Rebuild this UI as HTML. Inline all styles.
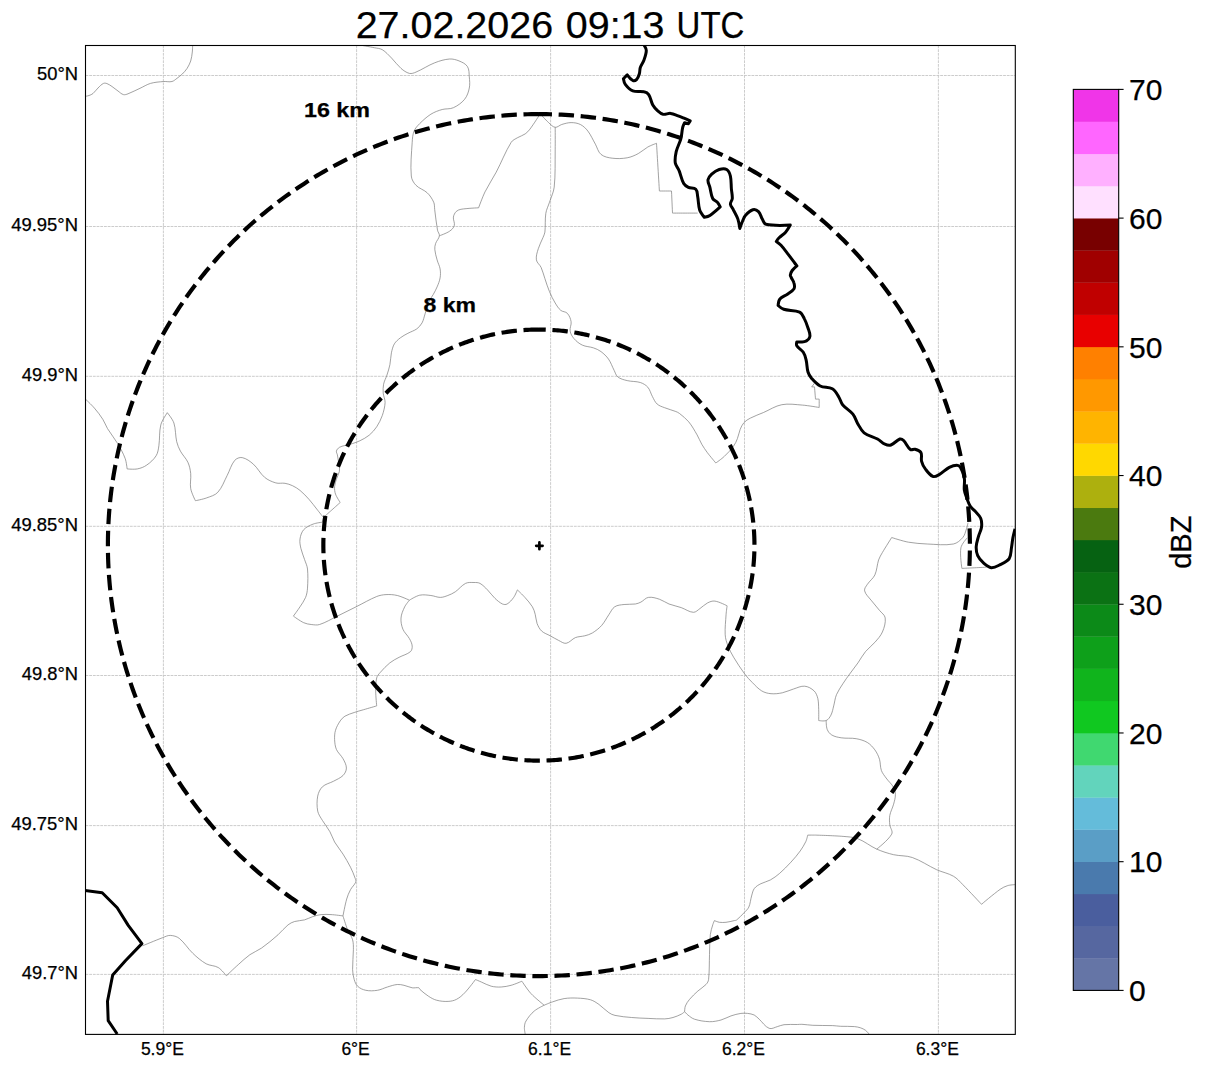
<!DOCTYPE html><html><head><meta charset="utf-8"><style>html,body{margin:0;padding:0;background:#fff;}svg{display:block;}text{font-family:"Liberation Sans",sans-serif;stroke:#000;stroke-width:0.25px;}</style></head><body>
<svg width="1207" height="1069" viewBox="0 0 1207 1069">
<rect x="0" y="0" width="1207" height="1069" fill="#fff"/>
<defs><clipPath id="ax"><rect x="85.5" y="45.5" width="929.8" height="988.9000000000001"/></clipPath></defs>
<g clip-path="url(#ax)">
<g stroke="#c6c6c6" stroke-width="0.9" stroke-dasharray="2.8 0.9" fill="none">
<line x1="163.4" y1="45.5" x2="163.4" y2="1034.4"/>
<line x1="356.6" y1="45.5" x2="356.6" y2="1034.4"/>
<line x1="550.6" y1="45.5" x2="550.6" y2="1034.4"/>
<line x1="744.5" y1="45.5" x2="744.5" y2="1034.4"/>
<line x1="938.4" y1="45.5" x2="938.4" y2="1034.4"/>
<line x1="85.5" y1="75.5" x2="1015.3" y2="75.5"/>
<line x1="85.5" y1="226.5" x2="1015.3" y2="226.5"/>
<line x1="85.5" y1="376.3" x2="1015.3" y2="376.3"/>
<line x1="85.5" y1="526.3" x2="1015.3" y2="526.3"/>
<line x1="85.5" y1="675.5" x2="1015.3" y2="675.5"/>
<line x1="85.5" y1="825.6" x2="1015.3" y2="825.6"/>
<line x1="85.5" y1="974.4" x2="1015.3" y2="974.4"/>
</g>
<g stroke="#7a7a7a" stroke-width="0.7" fill="none" stroke-linejoin="round">
<path d="M85.0,96.4 C85.0,96.4 87.7,96.0 89.0,95.5 C90.4,95.0 91.9,94.5 93.0,93.5 C94.9,91.9 96.2,89.7 98.0,88.0 C99.7,86.3 101.4,84.4 103.5,83.4 C104.5,82.9 105.9,83.2 107.0,83.6 C108.8,84.3 110.4,85.4 112.0,86.5 C114.1,87.9 116.0,89.6 118.0,91.0 C119.8,92.3 121.3,94.0 123.4,94.6 C124.9,95.0 126.5,94.4 128.0,93.8 C132.1,92.2 136.0,90.1 140.0,88.3 C143.5,86.7 146.8,84.5 150.5,83.4 C154.7,82.2 159.2,81.9 163.6,81.5 C166.4,81.3 169.3,82.2 172.0,81.5 C173.9,81.0 175.4,79.5 177.0,78.3 C178.8,77.0 180.7,75.6 182.3,74.0 C184.0,72.3 185.7,70.5 187.0,68.5 C188.5,66.2 189.8,63.7 190.7,61.0 C191.6,58.1 191.9,55.0 192.3,52.0 C192.6,49.7 192.6,45.0 192.6,45.0"/>
<path d="M359.8,45.0 C359.8,45.0 369.8,46.8 374.8,47.8 C377.3,48.3 380.1,48.4 382.3,49.7 C385.9,51.9 388.6,55.1 391.6,58.1 C394.9,61.4 397.5,65.4 401.0,68.4 C403.5,70.5 406.2,72.6 409.4,73.4 C411.6,73.9 413.9,73.0 416.0,72.1 C422.4,69.4 428.2,65.3 434.7,62.8 C439.5,60.9 444.5,59.4 449.6,59.0 C452.8,58.8 456.1,59.7 459.0,60.9 C462.1,62.2 465.6,63.7 467.4,66.5 C469.3,69.4 469.0,73.3 469.3,76.8 C469.6,80.5 470.1,84.3 469.3,88.0 C468.5,92.0 467.2,96.1 464.6,99.3 C461.7,102.9 457.6,105.8 453.4,107.7 C450.0,109.3 445.8,108.5 442.2,109.5 C438.3,110.6 434.4,112.0 430.9,114.2 C426.8,116.8 423.1,120.2 419.7,123.6 C417.5,125.8 415.3,128.1 414.1,131.0 C412.7,134.5 412.4,138.5 412.2,142.3 C411.5,153.5 410.3,164.8 411.3,176.0 C411.6,179.5 413.6,182.8 416.0,185.3 C419.1,188.6 424.0,189.7 427.2,192.8 C430.0,195.4 432.1,198.7 433.7,202.2 C434.7,204.5 434.4,207.1 434.7,209.6 C435.6,216.5 436.3,223.4 437.5,230.2 C437.8,232.1 439.7,233.8 439.4,235.8 C439.0,238.6 436.5,240.8 435.6,243.5 C435.0,245.4 434.6,247.5 434.8,249.5 C435.1,253.0 436.2,256.5 437.1,259.9 C437.9,263.0 439.6,265.8 440.1,268.9 C440.6,271.9 440.6,274.9 440.1,277.9 C439.6,281.0 438.3,284.0 437.1,286.9 C436.0,289.5 434.7,291.9 433.3,294.4 C431.9,297.0 429.9,299.2 428.8,301.9 C427.2,305.7 426.4,309.8 425.1,313.8 C424.1,316.8 423.6,320.0 422.1,322.8 C420.8,325.1 419.0,327.2 416.9,328.8 C414.2,330.8 410.8,331.7 407.9,333.3 C405.3,334.7 402.7,336.0 400.4,337.8 C398.2,339.5 395.9,341.4 394.4,343.8 C392.8,346.5 392.1,349.7 391.4,352.8 C390.6,356.7 390.7,360.8 389.9,364.7 C389.2,368.3 388.0,371.7 386.9,375.2 C385.9,378.2 384.2,381.1 383.6,384.2 C383.0,387.1 383.0,390.1 383.2,393.1 C383.5,396.3 385.2,399.3 385.1,402.5 C384.9,406.9 383.7,411.3 382.3,415.5 C380.9,419.5 379.0,423.3 376.7,426.8 C374.6,429.9 372.1,432.8 369.2,435.2 C366.4,437.5 363.1,439.2 359.8,440.8 C357.4,442.0 354.9,442.8 352.4,443.6 C349.9,444.4 347.4,444.8 344.9,445.5 C343.0,446.0 340.9,446.3 339.3,447.4 C338.0,448.3 336.8,449.6 336.4,451.1 C336.1,452.3 337.1,453.5 337.4,454.8 C337.8,456.7 338.0,458.5 338.3,460.4 C338.6,462.3 339.1,464.2 339.3,466.1 C339.5,468.0 339.7,469.9 339.3,471.7 C338.7,474.3 337.2,476.6 336.4,479.2 C335.6,481.6 334.8,484.1 334.6,486.6 C334.4,489.1 334.7,491.7 335.5,494.1 C336.6,497.1 340.2,502.5 340.2,502.5 C340.2,502.5 334.6,507.5 331.8,510.0 C329.0,512.5 323.4,517.5 323.4,517.5"/>
<path d="M439.4,235.8 C439.4,235.8 446.5,233.3 449.6,231.2 C451.6,229.8 453.7,227.9 454.3,225.5 C455.0,222.8 453.0,219.9 453.4,217.1 C453.7,215.0 454.8,213.0 456.2,211.5 C457.4,210.3 459.2,209.6 460.9,209.3 C466.7,208.3 478.6,207.8 478.6,207.8 C478.6,207.8 482.5,197.0 485.0,191.9 C488.3,185.1 492.7,178.9 496.2,172.2 C501.4,162.3 505.3,151.8 511.2,142.3 C512.6,140.0 515.4,139.0 517.7,137.6 C520.1,136.2 522.9,135.5 525.2,133.9 C527.0,132.6 528.6,131.0 529.9,129.2 C533.6,124.3 540.2,113.8 540.2,113.8 C540.2,113.8 545.6,119.9 548.6,122.6 C550.6,124.4 552.5,126.9 555.2,127.3 C557.5,127.6 559.4,125.2 561.7,124.5 C564.8,123.6 567.9,122.6 571.1,122.6 C574.3,122.6 577.6,123.1 580.4,124.5 C583.4,126.0 585.9,128.5 587.9,131.1 C590.9,135.1 592.9,139.8 595.4,144.2 C597.3,147.6 598.0,151.9 601.0,154.4 C604.0,156.9 608.3,157.7 612.2,158.2 C617.2,158.8 622.3,158.7 627.2,157.8 C631.1,157.1 634.9,155.4 638.4,153.5 C641.8,151.7 644.5,148.9 647.8,147.0 C650.5,145.5 656.5,143.3 656.5,143.3 C656.5,143.3 659.4,191.0 659.4,191.0 C659.4,191.0 671.5,191.0 671.5,191.0 C671.5,191.0 672.5,213.1 672.5,213.1 C672.5,213.1 697.7,213.1 697.7,213.1"/>
<path d="M555.2,127.3 C555.2,127.3 555.3,142.3 555.2,149.8 C555.0,162.3 555.5,174.8 554.2,187.2 C553.6,192.4 551.1,197.2 549.5,202.2 C548.3,205.9 546.4,209.5 545.8,213.4 C544.9,219.6 545.6,225.9 544.9,232.1 C544.7,234.0 543.7,235.7 543.0,237.5 C541.5,241.3 539.4,244.8 538.3,248.7 C537.2,252.3 535.8,256.2 536.4,259.9 C536.8,262.8 539.9,264.7 541.1,267.4 C542.7,271.0 543.6,274.9 544.9,278.6 C546.4,283.0 547.7,287.4 549.5,291.7 C551.1,295.6 553.0,299.4 555.2,303.0 C556.8,305.6 558.4,308.4 560.8,310.4 C562.6,311.9 565.7,311.5 567.3,313.3 C569.4,315.6 570.6,318.7 571.1,321.7 C571.6,324.8 569.6,327.9 570.1,331.0 C570.6,333.8 572.1,336.4 573.9,338.5 C576.2,341.2 579.1,343.6 582.3,345.1 C585.8,346.8 589.9,346.6 593.5,347.9 C596.1,348.8 598.8,349.9 601.0,351.6 C603.8,353.7 606.5,356.2 608.5,359.1 C610.9,362.5 612.2,366.6 614.1,370.3 C615.3,372.5 615.8,375.3 617.8,376.9 C620.4,379.0 623.9,379.8 627.2,380.6 C631.5,381.7 636.1,381.2 640.3,382.5 C643.1,383.4 645.9,385.0 647.8,387.2 C650.1,389.8 650.7,393.5 652.4,396.5 C653.8,399.1 654.9,402.0 657.1,404.0 C659.2,405.9 662.0,406.7 664.6,407.7 C668.3,409.2 672.1,410.1 675.8,411.5 C677.1,412.0 678.3,412.6 679.4,413.4 C682.7,416.0 686.0,418.6 688.7,421.8 C692.0,425.8 694.5,430.4 697.1,434.9 C698.9,437.9 700.0,441.3 701.8,444.3 C703.5,447.2 705.4,450.0 707.4,452.7 C710.1,456.2 715.8,463.0 715.8,463.0 C715.8,463.0 721.7,458.9 724.3,456.4 C727.7,453.2 730.9,449.8 733.6,446.1 C735.3,443.8 736.4,441.2 737.4,438.6 C738.6,435.6 739.0,432.3 740.2,429.3 C741.2,427.0 742.2,424.6 743.9,422.7 C745.7,420.7 748.0,419.3 750.4,418.1 C754.6,415.9 759.1,414.4 763.5,412.5 C769.6,409.9 775.3,405.9 781.8,404.7 C788.5,403.4 795.6,404.6 802.4,405.1 C808.0,405.5 819.2,407.5 819.2,407.5 C819.2,407.5 819.2,399.1 819.2,399.1 C819.2,399.1 815.5,399.1 815.5,399.1 C815.5,399.1 814.5,386.9 814.5,386.9 C814.5,386.9 811.7,386.9 811.7,386.9 C811.7,386.9 814.5,383.2 814.5,383.2"/>
<path d="M85.0,398.7 C85.0,398.7 91.5,404.7 94.4,408.1 C97.5,411.6 100.3,415.4 102.8,419.3 C104.7,422.2 105.7,425.6 107.5,428.6 C110.7,433.8 114.6,438.4 117.7,443.6 C120.5,448.4 123.3,453.4 125.2,458.6 C126.4,461.9 127.1,468.9 127.1,468.9 C127.1,468.9 134.0,469.6 137.4,468.9 C140.7,468.3 144.0,467.0 146.7,465.1 C150.3,462.6 153.8,459.5 156.1,455.8 C158.0,452.8 158.4,449.0 158.9,445.5 C159.9,438.7 159.1,431.6 160.8,424.9 C161.9,420.4 167.3,412.7 167.3,412.7 C167.3,412.7 172.6,419.1 173.9,423.0 C175.8,429.0 175.3,435.6 176.7,441.7 C177.5,445.0 178.8,448.1 180.4,451.1 C182.5,455.0 186.0,458.2 187.9,462.3 C189.5,465.8 190.3,469.7 190.7,473.5 C191.2,478.5 189.8,483.6 190.7,488.5 C191.4,492.8 195.4,500.7 195.4,500.7 C195.4,500.7 203.0,499.3 206.6,497.9 C210.5,496.4 215.0,495.4 217.8,492.3 C222.2,487.5 224.2,481.1 227.2,475.4 C229.8,470.5 231.1,464.7 234.7,460.4 C236.4,458.4 239.6,457.1 242.2,457.6 C246.4,458.5 250.1,461.3 253.4,464.2 C257.7,468.0 260.2,473.6 264.6,477.3 C267.8,480.0 271.8,481.7 275.8,482.9 C278.7,483.8 282.0,482.8 285.0,483.3 C287.6,483.7 290.1,484.6 292.5,485.7 C295.2,487.0 297.7,488.5 300.0,490.4 C303.4,493.2 306.4,496.4 309.3,499.7 C312.0,502.7 314.3,506.0 316.8,509.1 C319.0,511.9 323.4,517.5 323.4,517.5"/>
<path d="M323.4,517.5 C323.4,517.5 322.4,522.2 322.4,522.2 C322.4,522.2 316.0,522.9 313.1,524.1 C309.7,525.5 306.1,527.0 303.7,529.7 C301.5,532.2 300.5,535.7 300.0,539.0 C299.5,542.1 300.2,545.3 300.9,548.4 C301.8,552.2 303.4,555.9 304.6,559.6 C305.6,562.7 307.2,565.7 307.5,569.0 C308.1,575.3 307.9,581.7 307.5,588.1 C307.3,591.3 306.8,594.5 305.6,597.4 C304.2,600.8 302.0,603.7 300.0,606.8 C297.9,610.0 293.4,616.1 293.4,616.1 C293.4,616.1 300.0,621.0 303.7,622.7 C306.0,623.8 308.6,624.2 311.2,624.5 C314.0,624.8 316.9,625.4 319.6,624.5 C325.8,622.5 331.5,619.0 337.4,616.1 C343.7,613.1 349.9,609.9 356.1,606.8 C363.0,603.4 369.6,599.4 376.7,596.5 C379.6,595.3 382.8,594.8 386.0,594.6 C389.8,594.4 393.6,594.6 397.3,595.5 C401.5,596.5 409.4,600.2 409.4,600.2"/>
<path d="M409.4,600.2 C409.4,600.2 416.0,596.0 419.7,595.2 C423.3,594.4 427.2,595.1 430.9,595.5 C434.1,595.8 437.1,597.4 440.3,597.4 C442.9,597.4 445.4,596.4 447.8,595.5 C450.4,594.5 453.0,593.4 455.3,591.8 C458.9,589.3 461.6,585.4 465.5,583.4 C468.1,582.1 471.2,582.5 474.0,582.5 C476.0,582.5 478.2,582.4 480.0,583.4 C482.9,585.0 485.2,587.6 487.5,589.9 C490.2,592.6 492.2,595.8 495.0,598.4 C497.3,600.5 499.7,602.7 502.5,604.0 C503.9,604.6 505.8,604.8 507.1,604.0 C509.8,602.4 511.9,599.9 513.7,597.4 C515.3,595.1 517.4,589.9 517.4,589.9 C517.4,589.9 522.6,594.8 524.9,597.4 C527.6,600.4 530.3,603.4 532.4,606.8 C533.8,609.1 534.5,611.7 535.2,614.3 C536.1,617.3 536.0,620.6 537.1,623.6 C538.2,626.3 539.6,629.1 541.7,631.1 C544.1,633.3 547.4,634.2 550.2,635.8 C553.0,637.3 555.7,639.0 558.6,640.4 C561.0,641.5 563.5,643.7 566.1,643.3 C569.7,642.7 572.0,639.0 575.4,637.6 C578.4,636.4 581.7,636.6 584.8,635.8 C587.4,635.1 590.0,634.4 592.3,633.0 C595.7,630.9 598.9,628.5 601.6,625.5 C604.6,622.2 606.5,618.0 609.1,614.3 C610.9,611.7 612.1,608.5 614.7,606.8 C617.4,605.0 620.9,604.9 624.1,604.5 C627.8,604.0 631.6,604.5 635.3,604.0 C637.3,603.7 639.1,603.0 640.9,602.1 C643.5,600.8 645.5,597.8 648.4,597.4 C652.1,596.8 656.0,598.1 659.6,599.3 C662.9,600.4 665.7,602.7 669.0,604.0 C673.0,605.5 677.2,606.2 681.2,607.6 C685.3,609.0 689.0,612.1 693.4,612.3 C695.9,612.4 697.8,610.0 699.9,608.6 C702.5,606.9 704.6,604.4 707.4,603.0 C709.7,601.8 712.3,600.7 714.9,601.1 C719.2,601.7 727.1,605.8 727.1,605.8 C727.1,605.8 726.3,611.4 726.1,614.2 C725.7,621.1 724.8,627.9 725.2,634.8 C725.4,638.6 726.6,642.4 728.0,646.0 C729.5,649.9 731.5,653.6 733.6,657.2 C737.1,663.0 740.8,668.7 744.8,674.1 C747.0,677.1 749.6,679.9 752.3,682.5 C755.3,685.5 758.1,688.7 761.7,690.9 C764.5,692.6 767.8,693.4 771.0,693.7 C774.8,694.0 778.6,693.6 782.3,692.8 C786.2,692.0 789.7,690.1 793.5,689.0 C797.2,687.9 800.9,685.8 804.7,686.2 C808.2,686.5 811.5,688.5 814.1,690.9 C816.1,692.8 817.1,695.7 817.8,698.4 C818.7,702.0 818.5,705.9 818.7,709.6 C818.8,713.2 818.7,720.5 818.7,720.5 C818.7,720.5 823.9,721.5 826.2,720.5 C828.4,719.6 829.8,717.3 830.9,715.2 C832.4,712.3 832.9,709.0 833.7,705.9 C834.7,702.2 835.0,698.2 836.5,694.6 C838.2,690.6 840.8,687.1 843.1,683.4 C845.1,680.2 847.4,677.2 849.6,674.1 C852.4,670.3 855.3,666.6 858.0,662.8 C860.6,659.1 862.6,655.1 865.5,651.6 C868.3,648.2 872.0,645.6 874.9,642.3 C877.7,639.1 880.7,635.9 882.4,632.0 C884.3,627.6 885.8,622.6 885.2,617.9 C884.8,614.8 881.5,612.9 879.5,610.4 C876.8,607.0 873.8,603.7 871.1,600.2 C868.8,597.2 865.5,594.5 864.6,590.8 C864.1,588.5 866.1,586.3 867.4,584.3 C869.6,580.9 873.2,578.5 874.9,574.9 C877.0,570.2 877.0,564.8 878.6,559.9 C879.5,557.3 881.0,554.9 882.4,552.5 C885.4,547.4 891.7,537.5 891.7,537.5 C891.7,537.5 902.8,541.2 908.5,542.2 C914.7,543.3 921.0,543.7 927.3,544.0 C936.0,544.3 944.8,545.6 953.4,544.0 C957.1,543.3 960.3,540.4 962.8,537.5 C964.9,535.1 965.4,531.8 966.5,528.8 C967.2,526.9 968.0,522.8 968.0,522.8"/>
<path d="M967.3,537.8 C967.3,537.8 961.6,543.9 960.9,547.8 C959.7,554.6 961.9,568.4 961.9,568.4 C961.9,568.4 986.7,567.2 986.7,567.2"/>
<path d="M826.2,720.5 C826.2,720.5 826.1,726.6 827.2,729.4 C828.1,731.7 829.7,733.8 831.8,735.0 C834.6,736.7 838.0,737.3 841.2,737.8 C846.2,738.6 851.3,737.8 856.2,738.7 C860.1,739.4 864.0,740.5 867.4,742.5 C870.4,744.3 872.8,747.1 874.9,749.9 C876.9,752.7 878.5,756.0 879.5,759.3 C880.6,762.9 880.1,766.9 881.4,770.5 C882.4,773.3 884.4,775.6 886.1,778.0 C888.4,781.3 891.7,783.9 893.6,787.4 C894.8,789.6 895.4,792.3 895.4,794.8 C895.4,798.0 894.4,801.1 893.6,804.2 C892.6,808.0 890.5,811.5 889.8,815.4 C889.2,818.5 889.5,821.7 889.8,824.8 C890.1,827.9 893.2,831.3 891.7,834.1 C888.3,840.3 876.7,849.1 876.7,849.1"/>
<path d="M815.0,835.1 C815.0,835.1 833.8,835.6 843.1,836.4 C848.1,836.8 853.3,837.0 858.0,838.8 C864.7,841.3 870.2,846.2 876.7,849.1 C882.1,851.5 887.8,853.3 893.6,854.7 C899.7,856.1 906.3,855.4 912.3,857.5 C920.9,860.5 928.4,865.9 936.6,869.7 C942.1,872.2 948.2,873.2 953.4,876.2 C957.1,878.3 959.8,881.6 962.8,884.6 C969.2,891.0 981.5,904.3 981.5,904.3 C981.5,904.3 993.7,893.9 1000.2,889.3 C1002.5,887.7 1005.0,886.4 1007.7,885.6 C1010.0,884.9 1015.0,884.6 1015.0,884.6"/>
<path d="M815.0,835.1 C815.0,835.1 807.7,835.1 807.7,835.1 C807.7,835.1 806.8,839.6 805.8,841.6 C804.2,844.9 802.3,848.0 800.2,851.0 C797.4,854.9 794.2,858.6 790.9,862.2 C787.3,866.1 783.6,869.9 779.6,873.4 C776.7,875.9 773.6,878.2 770.3,880.0 C767.4,881.6 763.9,882.1 760.9,883.7 C758.5,884.9 756.0,886.3 754.4,888.4 C752.8,890.5 752.4,893.3 751.6,895.9 C750.5,899.6 750.4,903.6 748.8,907.1 C747.8,909.3 745.8,910.9 744.1,912.7 C741.7,915.2 739.3,917.8 736.6,920.0 C736.0,920.5 735.1,920.4 734.3,920.6 C731.5,921.2 728.8,922.0 726.0,922.3 C723.8,922.5 721.6,922.6 719.4,922.3 C717.7,922.0 714.4,920.6 714.4,920.6 C714.4,920.6 713.2,923.3 712.8,924.7 C711.8,928.0 710.7,931.3 710.3,934.7 C709.6,941.3 709.8,948.0 709.5,954.6 C709.2,962.9 709.5,971.2 708.6,979.4 C708.4,981.3 707.4,983.0 706.1,984.4 C703.7,987.0 700.5,988.6 697.9,991.0 C695.0,993.6 692.1,996.3 689.6,999.3 C687.9,1001.3 686.4,1003.5 685.4,1005.9 C684.7,1007.7 684.6,1011.7 684.6,1011.7"/>
<path d="M684.6,1011.7 C684.6,1011.7 686.7,1014.1 687.9,1015.0 C690.0,1016.6 692.0,1018.4 694.5,1019.2 C699.3,1020.7 704.4,1021.5 709.5,1021.7 C713.4,1021.8 717.3,1021.0 721.0,1020.0 C724.5,1019.1 727.6,1017.0 731.0,1015.9 C734.2,1014.8 737.5,1013.9 740.9,1013.4 C743.1,1013.1 745.4,1013.1 747.6,1013.4 C749.8,1013.7 752.2,1014.0 754.2,1015.0 C756.1,1016.0 757.6,1017.8 759.2,1019.2 C762.5,1022.2 764.9,1026.6 769.1,1028.3 C771.7,1029.4 774.7,1027.3 777.4,1026.6 C779.6,1026.1 781.7,1024.9 784.0,1024.7 C788.4,1024.2 792.9,1024.6 797.3,1024.5 C798.8,1024.5 800.4,1024.2 801.9,1024.3 C805.5,1024.5 809.2,1025.1 812.8,1025.3 C819.4,1025.6 826.1,1025.4 832.7,1025.6 C835.4,1025.7 838.0,1026.2 840.7,1026.3 C845.3,1026.5 850.0,1026.2 854.6,1026.6 C856.6,1026.8 858.6,1027.2 860.5,1027.8 C862.3,1028.4 864.0,1029.2 865.5,1030.3 C866.9,1031.3 869.0,1034.0 869.0,1034.0"/>
<path d="M409.4,600.2 C409.4,600.2 405.9,604.4 404.7,606.8 C403.0,610.4 401.3,614.1 401.0,618.0 C400.7,621.8 401.5,625.7 402.9,629.2 C404.3,632.7 407.6,635.3 409.4,638.6 C410.7,640.9 412.0,643.4 412.2,646.1 C412.3,648.1 411.9,650.4 410.4,651.7 C407.2,654.4 402.8,655.3 399.1,657.3 C395.9,659.0 392.6,660.6 389.8,662.9 C386.3,665.7 383.3,669.0 380.4,672.3 C378.9,674.0 377.2,675.7 376.7,677.9 C375.6,682.1 375.7,686.6 375.7,691.0 C375.7,696.0 376.7,705.9 376.7,705.9 C376.7,705.9 368.0,708.4 363.6,709.7 C360.5,710.6 357.3,711.4 354.2,712.5 C351.0,713.6 347.8,714.5 344.9,716.2 C343.0,717.3 341.4,719.1 340.2,720.9 C338.3,723.8 336.5,726.9 335.5,730.3 C334.6,733.3 334.5,736.5 334.6,739.6 C334.8,742.9 335.1,746.4 336.4,749.4 C337.9,752.9 341.2,755.3 343.0,758.7 C344.6,761.6 346.4,764.8 346.4,768.1 C346.4,770.8 344.9,773.6 343.0,775.5 C340.4,778.1 336.8,779.4 333.6,781.2 C329.9,783.2 325.4,783.9 322.4,786.8 C319.9,789.2 318.4,792.7 317.7,796.1 C316.8,801.0 316.8,806.2 317.7,811.1 C318.4,814.5 320.6,817.4 322.4,820.4 C324.7,824.3 327.7,827.8 329.9,831.7 C331.8,835.0 332.7,838.7 334.6,842.0 C337.1,846.2 340.4,849.9 343.0,854.1 C345.7,858.4 348.2,862.7 350.5,867.2 C352.3,870.8 353.9,874.6 355.2,878.4 C355.6,879.6 356.2,881.0 355.7,882.2 C354.5,885.0 351.9,887.0 350.5,889.7 C348.9,892.7 347.6,895.8 346.7,899.0 C345.1,904.5 343.0,915.9 343.0,915.9"/>
<path d="M343.0,915.9 C343.0,915.9 335.0,914.8 331.0,914.6 C327.7,914.4 324.4,914.2 321.1,914.6 C318.3,914.9 315.5,915.7 312.8,916.6 C310.0,917.5 307.4,919.1 304.5,919.9 C301.3,920.8 297.8,920.5 294.6,921.5 C292.2,922.2 289.9,923.4 288.0,924.9 C284.3,927.8 281.5,931.7 278.0,934.8 C272.7,939.5 267.3,944.0 261.5,948.1 C257.9,950.7 253.5,952.1 249.9,954.7 C245.8,957.6 242.1,961.2 238.3,964.6 C234.2,968.2 226.4,975.8 226.4,975.8 C226.4,975.8 221.5,969.5 218.2,967.5 C214.6,965.4 209.9,965.8 206.2,963.8 C201.2,961.0 196.9,957.2 192.8,953.3 C187.9,948.7 184.5,942.6 179.3,938.4 C176.8,936.4 173.5,935.6 170.3,935.4 C167.7,935.3 165.2,936.7 162.8,937.6 C156.0,940.2 142.6,945.8 142.6,945.8"/>
<path d="M343.0,915.9 C343.0,915.9 345.8,925.3 347.6,929.8 C349.0,933.3 351.6,936.2 352.6,939.8 C353.5,943.0 353.4,946.4 353.4,949.7 C353.4,956.3 352.4,963.0 352.6,969.6 C352.7,972.9 353.2,976.3 354.2,979.5 C354.9,981.9 355.8,984.5 357.6,986.2 C359.8,988.3 362.8,989.7 365.8,990.3 C369.6,991.1 373.6,990.9 377.4,990.3 C380.9,989.8 384.0,988.0 387.4,987.0 C390.7,986.0 393.9,984.8 397.3,984.5 C399.5,984.3 401.8,984.8 404.0,985.3 C406.8,985.9 409.4,987.3 412.2,987.8 C414.4,988.2 416.7,987.3 418.9,987.8 C419.6,987.9 419.5,989.1 420.0,989.5 C422.6,991.8 425.3,994.2 428.3,996.1 C430.9,997.8 433.5,999.4 436.5,1000.2 C440.3,1001.2 444.2,1001.6 448.1,1001.4 C450.9,1001.3 453.9,1000.7 456.4,999.4 C459.5,997.8 462.3,995.4 464.7,992.8 C468.7,988.7 475.5,979.5 475.5,979.5 C475.5,979.5 479.4,981.2 481.3,982.0 C484.6,983.4 487.7,985.3 491.2,986.2 C494.4,987.0 497.9,987.2 501.2,987.0 C504.5,986.8 507.9,986.2 511.1,985.3 C514.8,984.3 521.9,981.2 521.9,981.2 C521.9,981.2 527.5,989.8 531.0,993.6 C535.0,997.9 544.2,1005.2 544.2,1005.2 C544.2,1005.2 549.7,1002.8 552.5,1001.9 C556.3,1000.6 560.1,999.2 564.1,998.6 C568.5,997.9 573.0,997.9 577.4,998.1 C581.8,998.3 586.3,998.6 590.6,999.8 C593.6,1000.7 596.3,1002.6 598.9,1004.4 C602.4,1006.9 605.3,1010.3 608.9,1012.7 C610.7,1014.0 612.8,1014.9 615.0,1015.4 C620.5,1016.6 626.0,1017.0 631.6,1017.5 C637.1,1018.0 642.6,1018.2 648.1,1018.4 C653.6,1018.6 659.2,1019.1 664.7,1018.9 C667.5,1018.8 670.3,1018.3 673.0,1017.5 C675.9,1016.7 678.6,1015.5 681.3,1014.2 C682.5,1013.6 684.6,1011.7 684.6,1011.7"/>
<path d="M544.2,1005.2 C544.2,1005.2 537.2,1008.5 534.3,1011.0 C531.0,1013.8 528.2,1017.3 526.0,1021.0 C524.8,1022.9 524.5,1025.3 524.4,1027.6 C524.3,1029.7 525.2,1034.0 525.2,1034.0"/>
</g>
<g stroke="#000" stroke-width="3.0" fill="none" stroke-linejoin="round" stroke-linecap="butt">
<path d="M644.0,45.0 C644.0,45.0 646.3,48.6 646.3,50.6 C646.3,53.8 645.1,57.0 644.0,60.0 C643.1,62.6 641.2,64.9 640.3,67.5 C639.6,69.6 640.0,71.9 639.3,74.0 C638.7,76.0 638.0,78.1 636.5,79.6 C635.6,80.5 633.9,81.1 632.8,80.5 C630.4,79.3 627.2,74.9 627.2,74.9 C627.2,74.9 623.4,78.7 623.4,78.7 C623.4,78.7 624.1,82.7 625.3,84.3 C627.3,86.9 629.7,89.6 632.8,90.8 C636.3,92.2 640.4,90.9 644.0,91.8 C645.8,92.2 647.7,93.1 648.7,94.6 C650.8,97.7 651.0,101.7 652.8,105.0 C654.0,107.1 655.7,109.0 657.5,110.6 C659.2,112.1 660.9,113.8 663.1,114.3 C665.6,114.8 668.1,113.1 670.6,113.4 C673.2,113.7 675.6,114.9 678.1,115.8 C680.3,116.6 682.4,117.5 684.6,118.4 C686.5,119.2 690.2,120.9 690.2,120.9 C690.2,120.9 688.4,123.7 688.4,123.7 C688.4,123.7 684.6,122.7 684.6,122.7 C684.6,122.7 683.1,125.8 682.7,127.4 C681.8,131.1 681.9,134.9 680.9,138.6 C679.7,143.1 677.2,147.2 676.2,151.7 C675.4,155.4 674.7,159.3 675.3,163.0 C675.7,165.7 678.0,167.8 679.0,170.4 C680.8,174.7 681.4,179.4 683.7,183.5 C684.7,185.3 686.6,186.4 688.4,187.3 C690.7,188.4 694.0,187.4 695.8,189.2 C697.6,191.0 697.2,194.1 697.7,196.6 C698.5,200.9 698.3,205.5 699.6,209.7 C700.5,212.5 704.3,217.2 704.3,217.2 C704.3,217.2 708.3,216.5 709.9,215.4 C713.6,213.0 720.2,206.9 720.2,206.9 C720.2,206.9 718.6,203.6 717.4,202.3 C716.1,200.8 713.6,200.3 712.7,198.5 C711.0,195.1 710.8,191.0 709.9,187.3 C709.3,184.8 707.6,182.4 708.0,179.8 C708.3,177.6 710.1,175.7 711.7,174.2 C713.9,172.2 716.4,170.4 719.2,169.5 C721.6,168.8 724.5,168.2 726.7,169.5 C728.9,170.8 729.8,173.6 730.4,176.1 C731.4,180.4 731.0,184.8 731.4,189.2 C731.7,192.3 732.5,195.4 732.3,198.5 C732.2,200.5 730.2,202.1 730.4,204.1 C730.6,206.2 732.4,207.8 733.3,209.7 C734.9,212.8 736.8,215.8 737.9,219.1 C738.9,222.1 739.8,228.4 739.8,228.4 C739.8,228.4 741.6,223.4 742.6,221.0 C743.4,219.1 744.0,216.9 745.4,215.4 C747.5,213.1 749.9,210.6 752.9,209.7 C754.8,209.2 757.1,210.2 758.5,211.6 C760.5,213.6 760.9,216.7 762.3,219.1 C763.4,220.9 763.9,223.9 766.0,224.3 C773.9,226.0 790.3,225.1 790.3,225.1 C790.3,225.1 787.5,230.1 785.6,232.2 C783.7,234.3 781.1,235.8 779.1,237.8 C778.0,238.9 776.3,241.5 776.3,241.5 C776.3,241.5 779.6,243.8 781.0,245.3 C783.7,248.2 786.0,251.5 788.4,254.6 C790.3,257.1 792.2,259.6 794.1,262.1 C795.0,263.4 796.9,265.9 796.9,265.9 C796.9,265.9 793.5,268.7 792.2,270.5 C791.2,271.9 790.5,273.5 790.3,275.2 C790.2,276.0 790.9,276.8 791.2,277.5 C792.1,279.4 793.5,281.1 794.0,283.1 C794.5,284.9 794.9,287.1 794.0,288.7 C792.5,291.2 789.7,292.6 787.4,294.3 C785.0,296.0 781.8,296.7 779.9,299.0 C778.5,300.7 778.1,305.5 778.1,305.5 C778.1,305.5 781.5,308.6 783.7,309.3 C788.8,310.9 794.7,309.9 799.6,312.1 C802.0,313.2 803.1,316.2 804.3,318.6 C805.9,321.6 807.0,324.8 808.0,328.0 C808.9,330.7 810.3,333.6 809.9,336.4 C809.6,338.4 807.8,340.1 806.1,341.1 C804.5,342.1 802.4,341.8 800.5,342.0 C799.3,342.1 796.8,342.0 796.8,342.0 C796.8,342.0 796.1,344.7 796.8,345.8 C798.4,348.4 801.6,349.7 803.3,352.3 C804.8,354.5 805.5,357.2 806.1,359.8 C807.1,363.8 806.8,368.1 808.0,372.0 C808.7,374.4 810.1,376.6 811.7,378.5 C814.2,381.3 816.8,384.3 820.2,386.0 C823.9,387.9 828.7,386.7 832.3,388.8 C835.4,390.6 837.0,394.2 838.9,397.2 C840.4,399.5 840.8,402.6 842.6,404.7 C845.6,408.3 850.0,410.5 852.9,414.1 C855.1,416.8 855.8,420.4 857.6,423.4 C859.6,426.7 861.1,430.4 864.1,432.8 C868.0,435.8 873.2,436.6 877.5,439.0 C880.1,440.4 882.1,443.0 884.9,444.2 C886.7,445.0 889.0,445.7 890.9,445.0 C894.3,443.8 896.5,440.2 899.9,439.0 C901.2,438.6 902.7,439.6 903.6,440.5 C906.3,443.2 907.4,447.2 910.4,449.5 C911.6,450.4 913.5,448.8 914.9,449.2 C917.1,449.8 919.8,450.5 920.9,452.5 C922.3,455.1 920.8,458.5 921.6,461.4 C922.3,464.1 923.6,466.7 925.3,468.9 C927.4,471.7 929.6,475.0 932.8,476.4 C934.7,477.2 937.0,475.9 938.8,474.9 C942.6,472.8 945.5,469.4 949.3,467.4 C951.6,466.2 954.2,465.2 956.8,465.2 C958.2,465.2 959.8,466.2 960.5,467.4 C962.4,470.6 963.7,474.2 964.3,477.9 C965.0,481.8 963.9,485.9 964.3,489.9 C964.6,492.5 965.6,495.0 966.5,497.4 C967.6,500.4 968.6,503.5 970.3,506.3 C971.4,508.1 973.3,509.2 974.7,510.8 C976.8,513.2 979.5,515.3 980.7,518.3 C981.8,521.1 981.9,524.3 981.5,527.3 C981.1,530.4 979.3,533.2 978.5,536.3 C977.6,539.7 976.3,543.2 976.2,546.7 C976.1,549.7 976.4,552.9 977.7,555.7 C979.0,558.6 981.3,561.1 983.7,563.2 C985.9,565.1 988.3,567.4 991.2,567.7 C994.3,568.0 997.4,566.1 1000.2,564.7 C1003.4,563.1 1007.2,561.7 1009.2,558.7 C1011.2,555.7 1010.8,551.7 1011.4,548.2 C1012.0,544.8 1012.3,541.2 1012.9,537.8 C1013.5,534.8 1015.0,528.8 1015.0,528.8"/>
<path d="M85.0,890.5 C85.0,890.5 102.2,892.7 102.2,892.7 C102.2,892.7 117.2,907.7 117.2,907.7 C117.2,907.7 128.4,925.6 128.4,925.6 C128.4,925.6 141.9,943.6 141.9,943.6 C141.9,943.6 125.4,960.8 125.4,960.8 C125.4,960.8 112.7,975.0 112.7,975.0 C112.7,975.0 107.5,1001.2 107.5,1001.2 C107.5,1001.2 108.2,1020.7 108.2,1020.7 C108.2,1020.7 117.2,1034.0 117.2,1034.0"/>
</g>
<path d="M538.90,114.10 L535.14,114.12 L531.38,114.17 L527.62,114.25 L523.86,114.36 L520.10,114.51 L516.34,114.69 L512.59,114.90 L508.83,115.15 L505.08,115.43 L501.34,115.74 L497.59,116.08 L493.85,116.46 L490.11,116.87 L486.37,117.31 L482.64,117.79 L478.92,118.29 L475.19,118.83 L471.48,119.41 L467.76,120.01 L464.06,120.65 L460.36,121.32 L456.66,122.02 L452.97,122.75 L449.29,123.52 L445.61,124.32 L441.95,125.15 L438.29,126.01 L434.63,126.90 L430.99,127.83 L427.35,128.79 L423.72,129.78 L420.10,130.80 L416.49,131.85 L412.89,132.93 L409.30,134.05 L405.71,135.19 L402.14,136.37 L398.58,137.58 L395.03,138.82 L391.49,140.09 L387.96,141.39 L384.44,142.73 L380.94,144.09 L377.44,145.48 L373.96,146.91 L370.49,148.36 L367.04,149.85 L363.60,151.36 L360.17,152.91 L356.75,154.48 L353.35,156.09 L349.96,157.72 L346.59,159.38 L343.23,161.08 L339.89,162.80 L336.56,164.55 L333.24,166.33 L329.95,168.14 L326.67,169.98 L323.40,171.84 L320.15,173.74 L316.92,175.66 L313.70,177.61 L310.50,179.59 L307.32,181.60 L304.16,183.63 L301.02,185.70 L297.89,187.78 L294.78,189.90 L291.69,192.05 L288.62,194.22 L285.56,196.41 L282.53,198.64 L279.52,200.89 L276.52,203.16 L273.55,205.47 L270.60,207.80 L267.66,210.15 L264.75,212.53 L261.86,214.93 L258.99,217.37 L256.14,219.82 L253.31,222.30 L250.50,224.80 L247.72,227.33 L244.96,229.89 L242.22,232.46 L239.50,235.06 L236.81,237.69 L234.14,240.34 L231.49,243.01 L228.86,245.70 L226.26,248.42 L223.69,251.16 L221.13,253.92 L218.60,256.70 L216.10,259.51 L213.62,262.34 L211.17,265.19 L208.73,268.06 L206.33,270.95 L203.95,273.86 L201.60,276.80 L199.27,279.75 L196.96,282.72 L194.69,285.72 L192.44,288.73 L190.21,291.76 L188.02,294.82 L185.85,297.89 L183.70,300.98 L181.58,304.09 L179.50,307.22 L177.43,310.36 L175.40,313.52 L173.39,316.70 L171.41,319.90 L169.46,323.12 L167.54,326.35 L165.64,329.60 L163.78,332.87 L161.94,336.15 L160.13,339.44 L158.35,342.76 L156.60,346.09 L154.88,349.43 L153.18,352.79 L151.52,356.16 L149.89,359.55 L148.28,362.95 L146.71,366.37 L145.16,369.80 L143.65,373.24 L142.16,376.69 L140.71,380.16 L139.28,383.64 L137.89,387.14 L136.53,390.64 L135.19,394.16 L133.89,397.69 L132.62,401.23 L131.38,404.78 L130.17,408.34 L128.99,411.91 L127.85,415.50 L126.73,419.09 L125.65,422.69 L124.60,426.30 L123.58,429.92 L122.59,433.55 L121.63,437.19 L120.70,440.83 L119.81,444.49 L118.95,448.15 L118.12,451.81 L117.32,455.49 L116.55,459.17 L115.82,462.86 L115.12,466.56 L114.45,470.26 L113.81,473.96 L113.21,477.68 L112.63,481.39 L112.09,485.12 L111.59,488.84 L111.11,492.57 L110.67,496.31 L110.26,500.05 L109.88,503.79 L109.54,507.54 L109.23,511.28 L108.95,515.03 L108.70,518.79 L108.49,522.54 L108.31,526.30 L108.16,530.06 L108.05,533.82 L107.97,537.58 L107.92,541.34 L107.90,545.10 L107.92,548.86 L107.97,552.62 L108.05,556.38 L108.16,560.14 L108.31,563.90 L108.49,567.66 L108.70,571.41 L108.95,575.17 L109.23,578.92 L109.54,582.66 L109.88,586.41 L110.26,590.15 L110.67,593.89 L111.11,597.63 L111.59,601.36 L112.09,605.08 L112.63,608.81 L113.21,612.52 L113.81,616.24 L114.45,619.94 L115.12,623.64 L115.82,627.34 L116.55,631.03 L117.32,634.71 L118.12,638.39 L118.95,642.05 L119.81,645.71 L120.70,649.37 L121.63,653.01 L122.59,656.65 L123.58,660.28 L124.60,663.90 L125.65,667.51 L126.73,671.11 L127.85,674.70 L128.99,678.29 L130.17,681.86 L131.38,685.42 L132.62,688.97 L133.89,692.51 L135.19,696.04 L136.53,699.56 L137.89,703.06 L139.28,706.56 L140.71,710.04 L142.16,713.51 L143.65,716.96 L145.16,720.40 L146.71,723.83 L148.28,727.25 L149.89,730.65 L151.52,734.04 L153.18,737.41 L154.88,740.77 L156.60,744.11 L158.35,747.44 L160.13,750.76 L161.94,754.05 L163.78,757.33 L165.64,760.60 L167.54,763.85 L169.46,767.08 L171.41,770.30 L173.39,773.50 L175.40,776.68 L177.43,779.84 L179.50,782.98 L181.58,786.11 L183.70,789.22 L185.85,792.31 L188.02,795.38 L190.21,798.44 L192.44,801.47 L194.69,804.48 L196.96,807.48 L199.27,810.45 L201.60,813.40 L203.95,816.34 L206.33,819.25 L208.73,822.14 L211.17,825.01 L213.62,827.86 L216.10,830.69 L218.60,833.50 L221.13,836.28 L223.69,839.04 L226.26,841.78 L228.86,844.50 L231.49,847.19 L234.14,849.86 L236.81,852.51 L239.50,855.14 L242.22,857.74 L244.96,860.31 L247.72,862.87 L250.50,865.40 L253.31,867.90 L256.14,870.38 L258.99,872.83 L261.86,875.27 L264.75,877.67 L267.66,880.05 L270.60,882.40 L273.55,884.73 L276.52,887.04 L279.52,889.31 L282.53,891.56 L285.56,893.79 L288.62,895.98 L291.69,898.15 L294.78,900.30 L297.89,902.42 L301.02,904.50 L304.16,906.57 L307.32,908.60 L310.50,910.61 L313.70,912.59 L316.92,914.54 L320.15,916.46 L323.40,918.36 L326.67,920.22 L329.95,922.06 L333.24,923.87 L336.56,925.65 L339.89,927.40 L343.23,929.12 L346.59,930.82 L349.96,932.48 L353.35,934.11 L356.75,935.72 L360.17,937.29 L363.60,938.84 L367.04,940.35 L370.49,941.84 L373.96,943.29 L377.44,944.72 L380.94,946.11 L384.44,947.47 L387.96,948.81 L391.49,950.11 L395.03,951.38 L398.58,952.62 L402.14,953.83 L405.71,955.01 L409.30,956.15 L412.89,957.27 L416.49,958.35 L420.10,959.40 L423.72,960.42 L427.35,961.41 L430.99,962.37 L434.63,963.30 L438.29,964.19 L441.95,965.05 L445.61,965.88 L449.29,966.68 L452.97,967.45 L456.66,968.18 L460.36,968.88 L464.06,969.55 L467.76,970.19 L471.48,970.79 L475.19,971.37 L478.92,971.91 L482.64,972.41 L486.37,972.89 L490.11,973.33 L493.85,973.74 L497.59,974.12 L501.34,974.46 L505.08,974.77 L508.83,975.05 L512.59,975.30 L516.34,975.51 L520.10,975.69 L523.86,975.84 L527.62,975.95 L531.38,976.03 L535.14,976.08 L538.90,976.10 L542.66,976.08 L546.42,976.03 L550.18,975.95 L553.94,975.84 L557.70,975.69 L561.46,975.51 L565.21,975.30 L568.97,975.05 L572.72,974.77 L576.46,974.46 L580.21,974.12 L583.95,973.74 L587.69,973.33 L591.43,972.89 L595.16,972.41 L598.88,971.91 L602.61,971.37 L606.32,970.79 L610.04,970.19 L613.74,969.55 L617.44,968.88 L621.14,968.18 L624.83,967.45 L628.51,966.68 L632.19,965.88 L635.85,965.05 L639.51,964.19 L643.17,963.30 L646.81,962.37 L650.45,961.41 L654.08,960.42 L657.70,959.40 L661.31,958.35 L664.91,957.27 L668.50,956.15 L672.09,955.01 L675.66,953.83 L679.22,952.62 L682.77,951.38 L686.31,950.11 L689.84,948.81 L693.36,947.47 L696.86,946.11 L700.36,944.72 L703.84,943.29 L707.31,941.84 L710.76,940.35 L714.20,938.84 L717.63,937.29 L721.05,935.72 L724.45,934.11 L727.84,932.48 L731.21,930.82 L734.57,929.12 L737.91,927.40 L741.24,925.65 L744.56,923.87 L747.85,922.06 L751.13,920.22 L754.40,918.36 L757.65,916.46 L760.88,914.54 L764.10,912.59 L767.30,910.61 L770.48,908.60 L773.64,906.57 L776.78,904.50 L779.91,902.42 L783.02,900.30 L786.11,898.15 L789.18,895.98 L792.24,893.79 L795.27,891.56 L798.28,889.31 L801.28,887.04 L804.25,884.73 L807.20,882.40 L810.14,880.05 L813.05,877.67 L815.94,875.27 L818.81,872.83 L821.66,870.38 L824.49,867.90 L827.30,865.40 L830.08,862.87 L832.84,860.31 L835.58,857.74 L838.30,855.14 L840.99,852.51 L843.66,849.86 L846.31,847.19 L848.94,844.50 L851.54,841.78 L854.11,839.04 L856.67,836.28 L859.20,833.50 L861.70,830.69 L864.18,827.86 L866.63,825.01 L869.07,822.14 L871.47,819.25 L873.85,816.34 L876.20,813.40 L878.53,810.45 L880.84,807.48 L883.11,804.48 L885.36,801.47 L887.59,798.44 L889.78,795.38 L891.95,792.31 L894.10,789.22 L896.22,786.11 L898.30,782.98 L900.37,779.84 L902.40,776.68 L904.41,773.50 L906.39,770.30 L908.34,767.08 L910.26,763.85 L912.16,760.60 L914.02,757.33 L915.86,754.05 L917.67,750.76 L919.45,747.44 L921.20,744.11 L922.92,740.77 L924.62,737.41 L926.28,734.04 L927.91,730.65 L929.52,727.25 L931.09,723.83 L932.64,720.40 L934.15,716.96 L935.64,713.51 L937.09,710.04 L938.52,706.56 L939.91,703.06 L941.27,699.56 L942.61,696.04 L943.91,692.51 L945.18,688.97 L946.42,685.42 L947.63,681.86 L948.81,678.29 L949.95,674.70 L951.07,671.11 L952.15,667.51 L953.20,663.90 L954.22,660.28 L955.21,656.65 L956.17,653.01 L957.10,649.37 L957.99,645.71 L958.85,642.05 L959.68,638.39 L960.48,634.71 L961.25,631.03 L961.98,627.34 L962.68,623.64 L963.35,619.94 L963.99,616.24 L964.59,612.52 L965.17,608.81 L965.71,605.08 L966.21,601.36 L966.69,597.63 L967.13,593.89 L967.54,590.15 L967.92,586.41 L968.26,582.66 L968.57,578.92 L968.85,575.17 L969.10,571.41 L969.31,567.66 L969.49,563.90 L969.64,560.14 L969.75,556.38 L969.83,552.62 L969.88,548.86 L969.90,545.10 L969.88,541.34 L969.83,537.58 L969.75,533.82 L969.64,530.06 L969.49,526.30 L969.31,522.54 L969.10,518.79 L968.85,515.03 L968.57,511.28 L968.26,507.54 L967.92,503.79 L967.54,500.05 L967.13,496.31 L966.69,492.57 L966.21,488.84 L965.71,485.12 L965.17,481.39 L964.59,477.68 L963.99,473.96 L963.35,470.26 L962.68,466.56 L961.98,462.86 L961.25,459.17 L960.48,455.49 L959.68,451.81 L958.85,448.15 L957.99,444.49 L957.10,440.83 L956.17,437.19 L955.21,433.55 L954.22,429.92 L953.20,426.30 L952.15,422.69 L951.07,419.09 L949.95,415.50 L948.81,411.91 L947.63,408.34 L946.42,404.78 L945.18,401.23 L943.91,397.69 L942.61,394.16 L941.27,390.64 L939.91,387.14 L938.52,383.64 L937.09,380.16 L935.64,376.69 L934.15,373.24 L932.64,369.80 L931.09,366.37 L929.52,362.95 L927.91,359.55 L926.28,356.16 L924.62,352.79 L922.92,349.43 L921.20,346.09 L919.45,342.76 L917.67,339.44 L915.86,336.15 L914.02,332.87 L912.16,329.60 L910.26,326.35 L908.34,323.12 L906.39,319.90 L904.41,316.70 L902.40,313.52 L900.37,310.36 L898.30,307.22 L896.22,304.09 L894.10,300.98 L891.95,297.89 L889.78,294.82 L887.59,291.76 L885.36,288.73 L883.11,285.72 L880.84,282.72 L878.53,279.75 L876.20,276.80 L873.85,273.86 L871.47,270.95 L869.07,268.06 L866.63,265.19 L864.18,262.34 L861.70,259.51 L859.20,256.70 L856.67,253.92 L854.11,251.16 L851.54,248.42 L848.94,245.70 L846.31,243.01 L843.66,240.34 L840.99,237.69 L838.30,235.06 L835.58,232.46 L832.84,229.89 L830.08,227.33 L827.30,224.80 L824.49,222.30 L821.66,219.82 L818.81,217.37 L815.94,214.93 L813.05,212.53 L810.14,210.15 L807.20,207.80 L804.25,205.47 L801.28,203.16 L798.28,200.89 L795.27,198.64 L792.24,196.41 L789.18,194.22 L786.11,192.05 L783.02,189.90 L779.91,187.78 L776.78,185.70 L773.64,183.63 L770.48,181.60 L767.30,179.59 L764.10,177.61 L760.88,175.66 L757.65,173.74 L754.40,171.84 L751.13,169.98 L747.85,168.14 L744.56,166.33 L741.24,164.55 L737.91,162.80 L734.57,161.08 L731.21,159.38 L727.84,157.72 L724.45,156.09 L721.05,154.48 L717.63,152.91 L714.20,151.36 L710.76,149.85 L707.31,148.36 L703.84,146.91 L700.36,145.48 L696.86,144.09 L693.36,142.73 L689.84,141.39 L686.31,140.09 L682.77,138.82 L679.22,137.58 L675.66,136.37 L672.09,135.19 L668.50,134.05 L664.91,132.93 L661.31,131.85 L657.70,130.80 L654.08,129.78 L650.45,128.79 L646.81,127.83 L643.17,126.90 L639.51,126.01 L635.85,125.15 L632.19,124.32 L628.51,123.52 L624.83,122.75 L621.14,122.02 L617.44,121.32 L613.74,120.65 L610.04,120.01 L606.32,119.41 L602.61,118.83 L598.88,118.29 L595.16,117.79 L591.43,117.31 L587.69,116.87 L583.95,116.46 L580.21,116.08 L576.46,115.74 L572.72,115.43 L568.97,115.15 L565.21,114.90 L561.46,114.69 L557.70,114.51 L553.94,114.36 L550.18,114.25 L546.42,114.17 L542.66,114.12 L538.90,114.10" fill="none" stroke="#000" stroke-width="4.17" stroke-dasharray="15.42 6.67"/>
<path d="M538.90,329.55 L537.02,329.56 L535.14,329.58 L533.26,329.62 L531.38,329.68 L529.50,329.76 L527.62,329.85 L525.74,329.95 L523.86,330.08 L521.99,330.21 L520.11,330.37 L518.24,330.54 L516.37,330.73 L514.50,330.94 L512.63,331.16 L510.77,331.39 L508.90,331.65 L507.04,331.92 L505.18,332.20 L503.32,332.51 L501.47,332.82 L499.62,333.16 L497.77,333.51 L495.93,333.88 L494.08,334.26 L492.25,334.66 L490.41,335.07 L488.58,335.51 L486.75,335.95 L484.93,336.42 L483.11,336.89 L481.30,337.39 L479.49,337.90 L477.68,338.43 L475.88,338.97 L474.08,339.53 L472.29,340.10 L470.50,340.69 L468.72,341.29 L466.95,341.91 L465.18,342.55 L463.41,343.20 L461.65,343.87 L459.90,344.55 L458.15,345.25 L456.41,345.96 L454.68,346.69 L452.95,347.43 L451.23,348.19 L449.51,348.96 L447.80,349.75 L446.10,350.55 L444.41,351.36 L442.72,352.20 L441.04,353.04 L439.37,353.90 L437.71,354.78 L436.05,355.67 L434.40,356.58 L432.76,357.49 L431.12,358.43 L429.50,359.38 L427.88,360.34 L426.28,361.31 L424.68,362.30 L423.09,363.31 L421.50,364.32 L419.93,365.36 L418.37,366.40 L416.81,367.46 L415.27,368.53 L413.73,369.62 L412.20,370.72 L410.69,371.83 L409.18,372.95 L407.68,374.09 L406.19,375.24 L404.72,376.41 L403.25,377.59 L401.79,378.78 L400.35,379.98 L398.91,381.19 L397.49,382.42 L396.07,383.66 L394.67,384.92 L393.28,386.18 L391.90,387.46 L390.53,388.75 L389.17,390.05 L387.82,391.36 L386.48,392.68 L385.16,394.02 L383.85,395.37 L382.55,396.73 L381.26,398.10 L379.98,399.48 L378.72,400.87 L377.46,402.27 L376.22,403.69 L374.99,405.11 L373.78,406.55 L372.58,407.99 L371.39,409.45 L370.21,410.92 L369.04,412.39 L367.89,413.88 L366.75,415.38 L365.63,416.89 L364.52,418.40 L363.42,419.93 L362.33,421.47 L361.26,423.01 L360.20,424.57 L359.16,426.13 L358.12,427.70 L357.11,429.29 L356.10,430.88 L355.11,432.48 L354.14,434.08 L353.18,435.70 L352.23,437.32 L351.29,438.96 L350.38,440.60 L349.47,442.25 L348.58,443.91 L347.70,445.57 L346.84,447.24 L346.00,448.92 L345.16,450.61 L344.35,452.30 L343.55,454.00 L342.76,455.71 L341.99,457.43 L341.23,459.15 L340.49,460.88 L339.76,462.61 L339.05,464.35 L338.35,466.10 L337.67,467.85 L337.00,469.61 L336.35,471.38 L335.71,473.15 L335.09,474.92 L334.49,476.70 L333.90,478.49 L333.33,480.28 L332.77,482.08 L332.23,483.88 L331.70,485.69 L331.19,487.50 L330.69,489.31 L330.22,491.13 L329.75,492.95 L329.31,494.78 L328.87,496.61 L328.46,498.45 L328.06,500.28 L327.68,502.13 L327.31,503.97 L326.96,505.82 L326.62,507.67 L326.31,509.52 L326.00,511.38 L325.72,513.24 L325.45,515.10 L325.19,516.97 L324.96,518.83 L324.74,520.70 L324.53,522.57 L324.34,524.44 L324.17,526.31 L324.01,528.19 L323.88,530.06 L323.75,531.94 L323.65,533.82 L323.56,535.70 L323.48,537.58 L323.42,539.46 L323.38,541.34 L323.36,543.22 L323.35,545.10 L323.36,546.98 L323.38,548.86 L323.42,550.74 L323.48,552.62 L323.56,554.50 L323.65,556.38 L323.75,558.26 L323.88,560.14 L324.01,562.01 L324.17,563.89 L324.34,565.76 L324.53,567.63 L324.74,569.50 L324.96,571.37 L325.19,573.23 L325.45,575.10 L325.72,576.96 L326.00,578.82 L326.31,580.68 L326.62,582.53 L326.96,584.38 L327.31,586.23 L327.68,588.07 L328.06,589.92 L328.46,591.75 L328.87,593.59 L329.31,595.42 L329.75,597.25 L330.22,599.07 L330.69,600.89 L331.19,602.70 L331.70,604.51 L332.23,606.32 L332.77,608.12 L333.33,609.92 L333.90,611.71 L334.49,613.50 L335.09,615.28 L335.71,617.05 L336.35,618.82 L337.00,620.59 L337.67,622.35 L338.35,624.10 L339.05,625.85 L339.76,627.59 L340.49,629.32 L341.23,631.05 L341.99,632.77 L342.76,634.49 L343.55,636.20 L344.35,637.90 L345.16,639.59 L346.00,641.28 L346.84,642.96 L347.70,644.63 L348.58,646.29 L349.47,647.95 L350.38,649.60 L351.29,651.24 L352.23,652.88 L353.18,654.50 L354.14,656.12 L355.11,657.72 L356.10,659.32 L357.11,660.91 L358.12,662.50 L359.16,664.07 L360.20,665.63 L361.26,667.19 L362.33,668.73 L363.42,670.27 L364.52,671.80 L365.63,673.31 L366.75,674.82 L367.89,676.32 L369.04,677.81 L370.21,679.28 L371.39,680.75 L372.58,682.21 L373.78,683.65 L374.99,685.09 L376.22,686.51 L377.46,687.93 L378.72,689.33 L379.98,690.72 L381.26,692.10 L382.55,693.47 L383.85,694.83 L385.16,696.18 L386.48,697.52 L387.82,698.84 L389.17,700.15 L390.53,701.45 L391.90,702.74 L393.28,704.02 L394.67,705.28 L396.07,706.54 L397.49,707.78 L398.91,709.01 L400.35,710.22 L401.79,711.42 L403.25,712.61 L404.72,713.79 L406.19,714.96 L407.68,716.11 L409.18,717.25 L410.69,718.37 L412.20,719.48 L413.73,720.58 L415.27,721.67 L416.81,722.74 L418.37,723.80 L419.93,724.84 L421.50,725.88 L423.09,726.89 L424.68,727.90 L426.28,728.89 L427.88,729.86 L429.50,730.82 L431.12,731.77 L432.76,732.71 L434.40,733.62 L436.05,734.53 L437.71,735.42 L439.37,736.30 L441.04,737.16 L442.72,738.00 L444.41,738.84 L446.10,739.65 L447.80,740.45 L449.51,741.24 L451.23,742.01 L452.95,742.77 L454.68,743.51 L456.41,744.24 L458.15,744.95 L459.90,745.65 L461.65,746.33 L463.41,747.00 L465.18,747.65 L466.95,748.29 L468.72,748.91 L470.50,749.51 L472.29,750.10 L474.08,750.67 L475.88,751.23 L477.68,751.77 L479.49,752.30 L481.30,752.81 L483.11,753.31 L484.93,753.78 L486.75,754.25 L488.58,754.69 L490.41,755.13 L492.25,755.54 L494.08,755.94 L495.93,756.32 L497.77,756.69 L499.62,757.04 L501.47,757.38 L503.32,757.69 L505.18,758.00 L507.04,758.28 L508.90,758.55 L510.77,758.81 L512.63,759.04 L514.50,759.26 L516.37,759.47 L518.24,759.66 L520.11,759.83 L521.99,759.99 L523.86,760.12 L525.74,760.25 L527.62,760.35 L529.50,760.44 L531.38,760.52 L533.26,760.58 L535.14,760.62 L537.02,760.64 L538.90,760.65 L540.78,760.64 L542.66,760.62 L544.54,760.58 L546.42,760.52 L548.30,760.44 L550.18,760.35 L552.06,760.25 L553.94,760.12 L555.81,759.99 L557.69,759.83 L559.56,759.66 L561.43,759.47 L563.30,759.26 L565.17,759.04 L567.03,758.81 L568.90,758.55 L570.76,758.28 L572.62,758.00 L574.48,757.69 L576.33,757.38 L578.18,757.04 L580.03,756.69 L581.87,756.32 L583.72,755.94 L585.55,755.54 L587.39,755.13 L589.22,754.69 L591.05,754.25 L592.87,753.78 L594.69,753.31 L596.50,752.81 L598.31,752.30 L600.12,751.77 L601.92,751.23 L603.72,750.67 L605.51,750.10 L607.30,749.51 L609.08,748.91 L610.85,748.29 L612.62,747.65 L614.39,747.00 L616.15,746.33 L617.90,745.65 L619.65,744.95 L621.39,744.24 L623.12,743.51 L624.85,742.77 L626.57,742.01 L628.29,741.24 L630.00,740.45 L631.70,739.65 L633.39,738.84 L635.08,738.00 L636.76,737.16 L638.43,736.30 L640.09,735.42 L641.75,734.53 L643.40,733.62 L645.04,732.71 L646.67,731.77 L648.30,730.82 L649.92,729.86 L651.52,728.89 L653.12,727.90 L654.71,726.89 L656.30,725.88 L657.87,724.84 L659.43,723.80 L660.99,722.74 L662.53,721.67 L664.07,720.58 L665.60,719.48 L667.11,718.37 L668.62,717.25 L670.12,716.11 L671.61,714.96 L673.08,713.79 L674.55,712.61 L676.01,711.42 L677.45,710.22 L678.89,709.01 L680.31,707.78 L681.73,706.54 L683.13,705.28 L684.52,704.02 L685.90,702.74 L687.27,701.45 L688.63,700.15 L689.98,698.84 L691.32,697.52 L692.64,696.18 L693.95,694.83 L695.25,693.47 L696.54,692.10 L697.82,690.72 L699.08,689.33 L700.34,687.93 L701.58,686.51 L702.81,685.09 L704.02,683.65 L705.22,682.21 L706.41,680.75 L707.59,679.28 L708.76,677.81 L709.91,676.32 L711.05,674.82 L712.17,673.31 L713.28,671.80 L714.38,670.27 L715.47,668.73 L716.54,667.19 L717.60,665.63 L718.64,664.07 L719.68,662.50 L720.69,660.91 L721.70,659.32 L722.69,657.72 L723.66,656.12 L724.62,654.50 L725.57,652.88 L726.51,651.24 L727.42,649.60 L728.33,647.95 L729.22,646.29 L730.10,644.63 L730.96,642.96 L731.80,641.28 L732.64,639.59 L733.45,637.90 L734.25,636.20 L735.04,634.49 L735.81,632.77 L736.57,631.05 L737.31,629.32 L738.04,627.59 L738.75,625.85 L739.45,624.10 L740.13,622.35 L740.80,620.59 L741.45,618.82 L742.09,617.05 L742.71,615.28 L743.31,613.50 L743.90,611.71 L744.47,609.92 L745.03,608.12 L745.57,606.32 L746.10,604.51 L746.61,602.70 L747.11,600.89 L747.58,599.07 L748.05,597.25 L748.49,595.42 L748.93,593.59 L749.34,591.75 L749.74,589.92 L750.12,588.07 L750.49,586.23 L750.84,584.38 L751.18,582.53 L751.49,580.68 L751.80,578.82 L752.08,576.96 L752.35,575.10 L752.61,573.23 L752.84,571.37 L753.06,569.50 L753.27,567.63 L753.46,565.76 L753.63,563.89 L753.79,562.01 L753.92,560.14 L754.05,558.26 L754.15,556.38 L754.24,554.50 L754.32,552.62 L754.38,550.74 L754.42,548.86 L754.44,546.98 L754.45,545.10 L754.44,543.22 L754.42,541.34 L754.38,539.46 L754.32,537.58 L754.24,535.70 L754.15,533.82 L754.05,531.94 L753.92,530.06 L753.79,528.19 L753.63,526.31 L753.46,524.44 L753.27,522.57 L753.06,520.70 L752.84,518.83 L752.61,516.97 L752.35,515.10 L752.08,513.24 L751.80,511.38 L751.49,509.52 L751.18,507.67 L750.84,505.82 L750.49,503.97 L750.12,502.13 L749.74,500.28 L749.34,498.45 L748.93,496.61 L748.49,494.78 L748.05,492.95 L747.58,491.13 L747.11,489.31 L746.61,487.50 L746.10,485.69 L745.57,483.88 L745.03,482.08 L744.47,480.28 L743.90,478.49 L743.31,476.70 L742.71,474.92 L742.09,473.15 L741.45,471.38 L740.80,469.61 L740.13,467.85 L739.45,466.10 L738.75,464.35 L738.04,462.61 L737.31,460.88 L736.57,459.15 L735.81,457.43 L735.04,455.71 L734.25,454.00 L733.45,452.30 L732.64,450.61 L731.80,448.92 L730.96,447.24 L730.10,445.57 L729.22,443.91 L728.33,442.25 L727.42,440.60 L726.51,438.96 L725.57,437.32 L724.62,435.70 L723.66,434.08 L722.69,432.48 L721.70,430.88 L720.69,429.29 L719.68,427.70 L718.64,426.13 L717.60,424.57 L716.54,423.01 L715.47,421.47 L714.38,419.93 L713.28,418.40 L712.17,416.89 L711.05,415.38 L709.91,413.88 L708.76,412.39 L707.59,410.92 L706.41,409.45 L705.22,407.99 L704.02,406.55 L702.81,405.11 L701.58,403.69 L700.34,402.27 L699.08,400.87 L697.82,399.48 L696.54,398.10 L695.25,396.73 L693.95,395.37 L692.64,394.02 L691.32,392.68 L689.98,391.36 L688.63,390.05 L687.27,388.75 L685.90,387.46 L684.52,386.18 L683.13,384.92 L681.73,383.66 L680.31,382.42 L678.89,381.19 L677.45,379.98 L676.01,378.78 L674.55,377.59 L673.08,376.41 L671.61,375.24 L670.12,374.09 L668.62,372.95 L667.11,371.83 L665.60,370.72 L664.07,369.62 L662.53,368.53 L660.99,367.46 L659.43,366.40 L657.87,365.36 L656.30,364.32 L654.71,363.31 L653.12,362.30 L651.52,361.31 L649.92,360.34 L648.30,359.38 L646.68,358.43 L645.04,357.49 L643.40,356.58 L641.75,355.67 L640.09,354.78 L638.43,353.90 L636.76,353.04 L635.08,352.20 L633.39,351.36 L631.70,350.55 L630.00,349.75 L628.29,348.96 L626.57,348.19 L624.85,347.43 L623.12,346.69 L621.39,345.96 L619.65,345.25 L617.90,344.55 L616.15,343.87 L614.39,343.20 L612.62,342.55 L610.85,341.91 L609.08,341.29 L607.30,340.69 L605.51,340.10 L603.72,339.53 L601.92,338.97 L600.12,338.43 L598.31,337.90 L596.50,337.39 L594.69,336.89 L592.87,336.42 L591.05,335.95 L589.22,335.51 L587.39,335.07 L585.55,334.66 L583.72,334.26 L581.87,333.88 L580.03,333.51 L578.18,333.16 L576.33,332.82 L574.48,332.51 L572.62,332.20 L570.76,331.92 L568.90,331.65 L567.03,331.39 L565.17,331.16 L563.30,330.94 L561.43,330.73 L559.56,330.54 L557.69,330.37 L555.81,330.21 L553.94,330.08 L552.06,329.95 L550.18,329.85 L548.30,329.76 L546.42,329.68 L544.54,329.62 L542.66,329.58 L540.78,329.56 L538.90,329.55" fill="none" stroke="#000" stroke-width="4.17" stroke-dasharray="15.42 6.67"/>
<path d="M536.1999999999999,545.8 H542.6 M539.4,542.4 V549.1999999999999" stroke="#000" stroke-width="2.7" stroke-linecap="round"/>
<text x="304" y="116.9" font-size="19.4" font-weight="bold" textLength="66" lengthAdjust="spacingAndGlyphs">16 km</text>
<text x="423.5" y="311.8" font-size="19.4" font-weight="bold" textLength="52.5" lengthAdjust="spacingAndGlyphs">8 km</text>
</g>
<rect x="85.5" y="45.5" width="929.8" height="988.9000000000001" fill="none" stroke="#000" stroke-width="1.1"/>
<text x="355.7" y="38" font-size="37.5" textLength="197.4" lengthAdjust="spacingAndGlyphs">27.02.2026</text>
<text x="565.8" y="38" font-size="37.5" textLength="98.7" lengthAdjust="spacingAndGlyphs">09:13</text>
<text x="676.6" y="38" font-size="37.5" textLength="67.8" lengthAdjust="spacingAndGlyphs">UTC</text>
<text x="162.4" y="1054.9" font-size="17.5" text-anchor="middle">5.9°E</text>
<text x="355.6" y="1054.9" font-size="17.5" text-anchor="middle">6°E</text>
<text x="549.6" y="1054.9" font-size="17.5" text-anchor="middle">6.1°E</text>
<text x="743.5" y="1054.9" font-size="17.5" text-anchor="middle">6.2°E</text>
<text x="937.4" y="1054.9" font-size="17.5" text-anchor="middle">6.3°E</text>
<text x="78" y="80.3" font-size="17.8" text-anchor="end" textLength="41.0" lengthAdjust="spacingAndGlyphs">50°N</text>
<text x="78" y="231.3" font-size="17.8" text-anchor="end" textLength="66.8" lengthAdjust="spacingAndGlyphs">49.95°N</text>
<text x="78" y="381.1" font-size="17.8" text-anchor="end" textLength="56.2" lengthAdjust="spacingAndGlyphs">49.9°N</text>
<text x="78" y="531.0999999999999" font-size="17.8" text-anchor="end" textLength="66.8" lengthAdjust="spacingAndGlyphs">49.85°N</text>
<text x="78" y="680.3" font-size="17.8" text-anchor="end" textLength="56.2" lengthAdjust="spacingAndGlyphs">49.8°N</text>
<text x="78" y="830.4" font-size="17.8" text-anchor="end" textLength="66.8" lengthAdjust="spacingAndGlyphs">49.75°N</text>
<text x="78" y="979.1999999999999" font-size="17.8" text-anchor="end" textLength="56.2" lengthAdjust="spacingAndGlyphs">49.7°N</text>
<rect x="1073.3" y="958.22" width="45.40" height="32.48" fill="#6575a6"/>
<rect x="1073.3" y="926.04" width="45.40" height="32.48" fill="#5667a0"/>
<rect x="1073.3" y="893.86" width="45.40" height="32.48" fill="#4a5e9e"/>
<rect x="1073.3" y="861.69" width="45.40" height="32.48" fill="#4a7aad"/>
<rect x="1073.3" y="829.51" width="45.40" height="32.48" fill="#5a9ec6"/>
<rect x="1073.3" y="797.33" width="45.40" height="32.48" fill="#64bcda"/>
<rect x="1073.3" y="765.15" width="45.40" height="32.48" fill="#62d4bc"/>
<rect x="1073.3" y="732.97" width="45.40" height="32.48" fill="#40d870"/>
<rect x="1073.3" y="700.79" width="45.40" height="32.48" fill="#10c820"/>
<rect x="1073.3" y="668.61" width="45.40" height="32.48" fill="#10b41c"/>
<rect x="1073.3" y="636.44" width="45.40" height="32.48" fill="#0ea01a"/>
<rect x="1073.3" y="604.26" width="45.40" height="32.48" fill="#0c8a18"/>
<rect x="1073.3" y="572.08" width="45.40" height="32.48" fill="#0b7214"/>
<rect x="1073.3" y="539.90" width="45.40" height="32.48" fill="#066212"/>
<rect x="1073.3" y="507.72" width="45.40" height="32.48" fill="#4b7a0f"/>
<rect x="1073.3" y="475.54" width="45.40" height="32.48" fill="#adb00e"/>
<rect x="1073.3" y="443.36" width="45.40" height="32.48" fill="#ffd800"/>
<rect x="1073.3" y="411.19" width="45.40" height="32.48" fill="#ffb400"/>
<rect x="1073.3" y="379.01" width="45.40" height="32.48" fill="#ff9800"/>
<rect x="1073.3" y="346.83" width="45.40" height="32.48" fill="#ff8000"/>
<rect x="1073.3" y="314.65" width="45.40" height="32.48" fill="#e80000"/>
<rect x="1073.3" y="282.47" width="45.40" height="32.48" fill="#c00000"/>
<rect x="1073.3" y="250.29" width="45.40" height="32.48" fill="#a00000"/>
<rect x="1073.3" y="218.11" width="45.40" height="32.48" fill="#780000"/>
<rect x="1073.3" y="185.94" width="45.40" height="32.48" fill="#ffe0ff"/>
<rect x="1073.3" y="153.76" width="45.40" height="32.48" fill="#ffb0ff"/>
<rect x="1073.3" y="121.58" width="45.40" height="32.48" fill="#ff66ff"/>
<rect x="1073.3" y="89.40" width="45.40" height="32.48" fill="#f035e8"/>
<rect x="1073.3" y="89.4" width="45.40" height="901.0" fill="none" stroke="#000" stroke-width="1.1"/>
<line x1="1118.7" y1="990.40" x2="1123.6000000000001" y2="990.40" stroke="#000" stroke-width="1.1"/>
<text x="1129.0" y="1001.20" font-size="30">0</text>
<line x1="1118.7" y1="861.69" x2="1123.6000000000001" y2="861.69" stroke="#000" stroke-width="1.1"/>
<text x="1129.0" y="872.49" font-size="30">10</text>
<line x1="1118.7" y1="732.97" x2="1123.6000000000001" y2="732.97" stroke="#000" stroke-width="1.1"/>
<text x="1129.0" y="743.77" font-size="30">20</text>
<line x1="1118.7" y1="604.26" x2="1123.6000000000001" y2="604.26" stroke="#000" stroke-width="1.1"/>
<text x="1129.0" y="615.06" font-size="30">30</text>
<line x1="1118.7" y1="475.54" x2="1123.6000000000001" y2="475.54" stroke="#000" stroke-width="1.1"/>
<text x="1129.0" y="486.34" font-size="30">40</text>
<line x1="1118.7" y1="346.83" x2="1123.6000000000001" y2="346.83" stroke="#000" stroke-width="1.1"/>
<text x="1129.0" y="357.63" font-size="30">50</text>
<line x1="1118.7" y1="218.11" x2="1123.6000000000001" y2="218.11" stroke="#000" stroke-width="1.1"/>
<text x="1129.0" y="228.91" font-size="30">60</text>
<line x1="1118.7" y1="89.40" x2="1123.6000000000001" y2="89.40" stroke="#000" stroke-width="1.1"/>
<text x="1129.0" y="100.20" font-size="30">70</text>
<text transform="translate(1191.3,542.2) rotate(-90)" font-size="29" text-anchor="middle">dBZ</text>
</svg></body></html>
